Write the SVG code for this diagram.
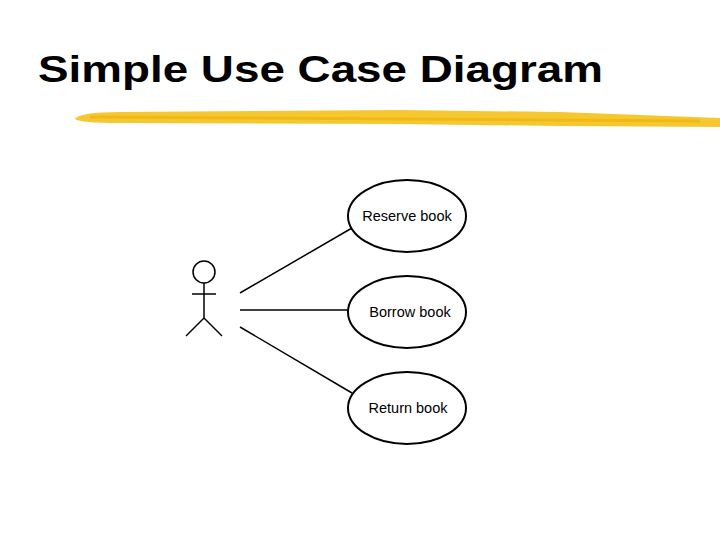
<svg xmlns="http://www.w3.org/2000/svg" width="720" height="540" viewBox="0 0 720 540">
<style>
.uc{fill:#fff;stroke:#000;stroke-width:2}
.lbl{font-family:"Liberation Sans",Arial,sans-serif;font-size:14.5px;text-anchor:middle}
.ln{stroke:#000;stroke-width:1.5;fill:none}
</style>
<rect width="720" height="540" fill="#fff"/>
<text x="38" y="82" font-family="Liberation Sans,Arial,sans-serif" font-weight="bold" font-size="37" textLength="565" lengthAdjust="spacingAndGlyphs">Simple Use Case Diagram</text>
<path d="M75,119 Q80,112 120,112 L400,110 L560,112 L720,118 L720,127 L560,126 L400,124 L120,123 Q80,123 75,119 Z" fill="#f5c832"/>
<path d="M90,117 L700,121" stroke="#f0b000" stroke-width="3" opacity="0.6"/>
<g id="actor" class="ln">
<circle cx="204" cy="272" r="11"/>
<line x1="204" y1="283" x2="204" y2="318"/>
<line x1="192" y1="294" x2="216" y2="294"/>
<line x1="204" y1="318" x2="186" y2="336"/>
<line x1="204" y1="318" x2="222" y2="336"/>
</g>
<g id="connectors" class="ln">
<line x1="240" y1="293" x2="352" y2="228"/>
<line x1="240" y1="310" x2="348" y2="310"/>
<line x1="240" y1="327" x2="352" y2="393"/>
</g>
<g id="reserve"><ellipse class="uc" cx="407" cy="216" rx="59" ry="36"/><text class="lbl" x="407" y="221">Reserve book</text></g>
<g id="borrow"><ellipse class="uc" cx="407" cy="312" rx="59" ry="36"/><text class="lbl" x="410" y="317">Borrow book</text></g>
<g id="return"><ellipse class="uc" cx="407" cy="408" rx="59" ry="36"/><text class="lbl" x="408" y="413">Return book</text></g>
</svg>
